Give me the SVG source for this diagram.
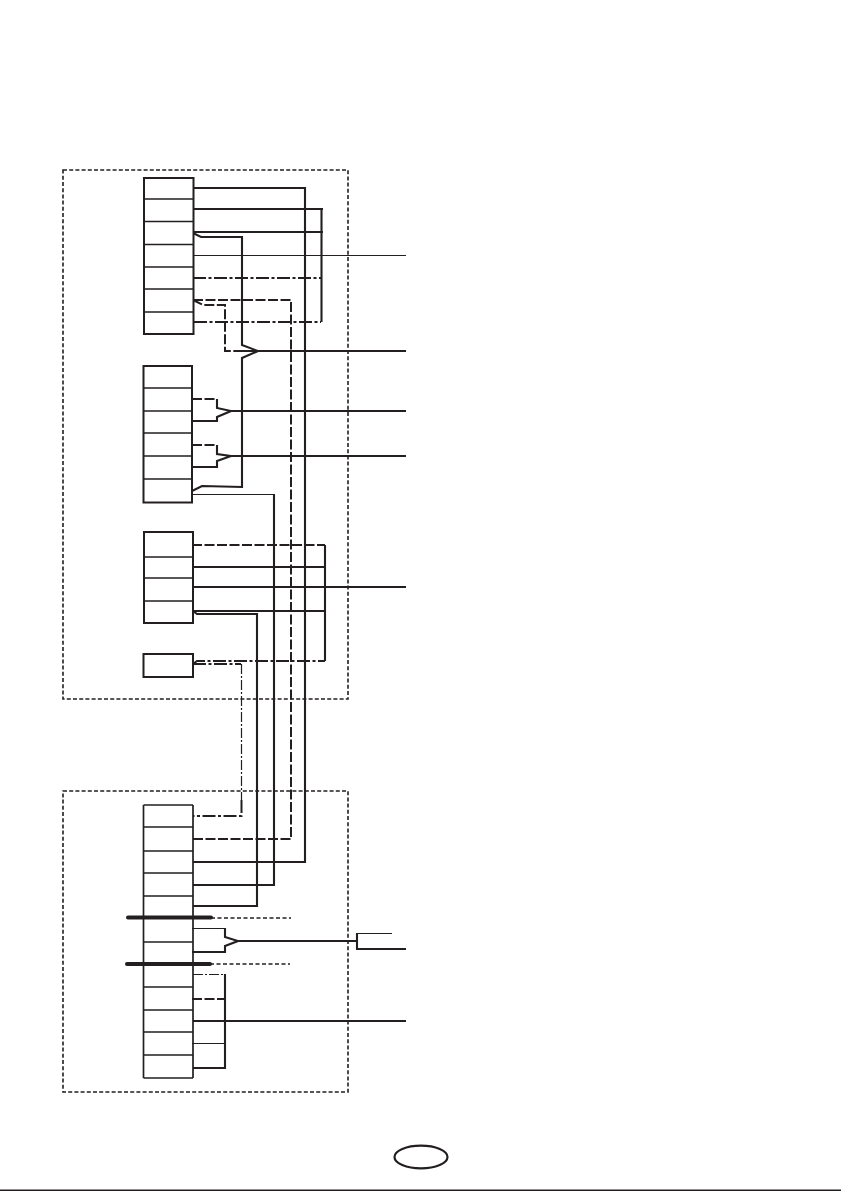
<svg xmlns="http://www.w3.org/2000/svg" width="841" height="1191" viewBox="0 0 841 1191">
<style>
.bg{fill:#fff}
.frame{fill:none;stroke:#231f20;stroke-width:1.6;stroke-dasharray:4 2.2}
.box{fill:#fff;stroke:#231f20;stroke-width:2}
.sep{stroke:#231f20;stroke-width:1.7;fill:none}
.w{fill:none;stroke:#231f20;stroke-width:2.1}
.t{fill:none;stroke:#231f20;stroke-width:1.2}
.d{fill:none;stroke:#231f20;stroke-width:2;stroke-dasharray:10 2.5}
.dd{fill:none;stroke:#231f20;stroke-width:2;stroke-dasharray:13 2.5 3 2.5}
.tdd{fill:none;stroke:#231f20;stroke-width:1.2;stroke-dasharray:10 2 2 2}
.bar{fill:none;stroke:#231f20;stroke-width:4;stroke-linecap:round}
.sd{fill:none;stroke:#231f20;stroke-width:1.6;stroke-dasharray:4 2.5}
</style>
<rect class="bg" width="841" height="1191"/>
<g id="frame-top"><rect class="frame" x="63" y="170" width="285" height="529"/></g>
<g id="frame-bottom"><rect class="frame" x="63" y="791" width="285" height="301"/></g>
<g id="connectors">
<path class="w" d="M194 188H305V862H193"/>
<path class="w" d="M194 209H323M321.500 209V322"/>
<path class="w" d="M193 232H323"/>
<path class="t" d="M194 255.500H406"/>
<path class="dd" d="M193 278H321"/>
<path class="dd" d="M194 322H321"/>
<path class="d" d="M193 300H291V839H193"/>
<path class="w" d="M193 233L201 237H242V345L258 351L242 358V487L202 486L192 491"/>
<path class="d" d="M193 300L203 305H225V351H241"/>
<path class="w" d="M241 351H258M258 351H406"/>
<path class="d" d="M192 399H217"/>
<path class="w" d="M217 399V408L231 411L217 417V421H192M231 411H406"/>
<path class="d" d="M192 445H217"/>
<path class="w" d="M217 445V454L231 456L217 461V467H192M231 456H406"/>
<path class="t" d="M192 494.500H274"/>
<path class="w" d="M274 494V885H193"/>
<path class="d" d="M192 545H325"/>
<path class="w" d="M325 545V661M192 567H325M193 587H406M193 611H325"/>
<path class="w" d="M193 611L197 614H257V906H193"/>
<path class="dd" d="M193 664L197 661H325"/>
<path class="dd" d="M193 664H241"/>
<path class="tdd" d="M241.500 664V800"/>
<path class="dd" d="M241.500 800V816H193"/>
<path class="sd" d="M211 918H291M210 964H290"/>
<path class="t" d="M192 928.500H225"/>
<path class="w" d="M225 928V937L238 941L225 946V952H192M238 941H357"/>
<path class="t" d="M357 933.500H392"/>
<path class="w" d="M357 933V949H406"/>
<path class="tdd" d="M193 974.500H225"/>
<path class="w" d="M225 974V1068H193"/>
<path class="d" d="M192 999H225"/>
<path class="w" d="M193 1021H406"/>
<path class="t" d="M192 1043.500H225"/>
</g>
<g id="block-1">
<rect class="box" x="144" y="178" width="49.500" height="156"/>
<path class="sep" d="M143 199H193M144 221.500H193M144 244.500H193M144 267H193M144 289H193M144 312H193"/>
</g>
<g id="block-2">
<rect class="box" x="143.500" y="366" width="48.500" height="136.500"/>
<path class="sep" d="M143 388H192M143 411H192M143 433H192M143 456H192M143 479H192"/>
</g>
<g id="block-3">
<rect class="box" x="144" y="532" width="49" height="91"/>
<path class="sep" d="M144 557H193M144 578H193M144 601H193"/>
</g>
<g id="block-4"><rect class="box" x="143.500" y="654" width="49.500" height="23"/></g>
<g id="block-5">
<path class="sep" d="M143.500 805H193M143.500 827H193M143.500 851H193M143.500 873H193M143.500 896H193M143.500 942H193M144 987H193M143.500 1010H193M143.500 1032H193M143.500 1055H193M143.500 1078H193M143.500 805V1078M193 805V1078"/>
</g>
<path class="bar" d="M128 917.500H211M127 964H210"/>
<g id="oval"><ellipse cx="421" cy="1157" rx="26.500" ry="11.300" fill="#fff" stroke="#231f20" stroke-width="2.200"/></g>
<g id="page-edge"><path stroke="#231f20" stroke-width="1.500" d="M0 1190.300H841"/></g>
</svg>
